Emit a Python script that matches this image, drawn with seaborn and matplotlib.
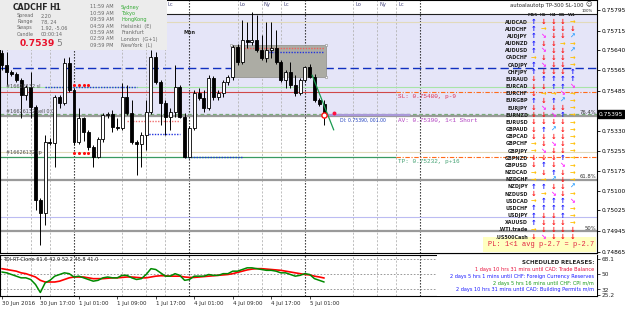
import matplotlib
matplotlib.use("Agg")
import numpy as np
import pandas as pd
import matplotlib.pyplot as plt
import seaborn as sns
from matplotlib.patches import Rectangle

# CADCHF H1 candles, 30 Jun 09:00 .. 5 Jul 04:00 (bar 15 = 1 Jul 00:00)
opens = [0.75630, 0.75584, 0.75557, 0.75549, 0.75526, 0.75468, 0.75499, 0.75422, 0.75065, 0.75015,
         0.75288, 0.75284, 0.75461, 0.75438, 0.75591, 0.75488, 0.75288, 0.75380, 0.75326, 0.75269,
         0.75230, 0.75299, 0.75391, 0.75395, 0.75345, 0.75342, 0.75461, 0.75399, 0.75288, 0.75280,
         0.75315, 0.75403, 0.75614, 0.75518, 0.75438, 0.75384, 0.75403, 0.75499, 0.75384, 0.75230,
         0.75342, 0.75476, 0.75457, 0.75418, 0.75534, 0.75461, 0.75476, 0.75518, 0.75538, 0.75653,
         0.75595, 0.75680, 0.75672, 0.75680, 0.75641, 0.75611, 0.75641, 0.75649, 0.75595, 0.75526,
         0.75557, 0.75507, 0.75476, 0.75526, 0.75576, 0.75538, 0.75449, 0.75434]
highs = [0.75641, 0.75634, 0.75564, 0.75557, 0.75534, 0.75507, 0.75557, 0.75430, 0.75072, 0.75315,
         0.75303, 0.75468, 0.75468, 0.75611, 0.75614, 0.75495, 0.75418, 0.75384, 0.75334, 0.75276,
         0.75307, 0.75399, 0.75403, 0.75411, 0.75380, 0.75514, 0.75507, 0.75449, 0.75295, 0.75326,
         0.75449, 0.75641, 0.75634, 0.75526, 0.75449, 0.75418, 0.75584, 0.75507, 0.75399, 0.75349,
         0.75488, 0.75495, 0.75488, 0.75545, 0.75541, 0.75488, 0.75526, 0.75545, 0.75660, 0.75664,
         0.75757, 0.75749, 0.75787, 0.75776, 0.75699, 0.75749, 0.75749, 0.75718, 0.75603, 0.75564,
         0.75595, 0.75545, 0.75534, 0.75580, 0.75587, 0.75549, 0.75457, 0.75449]
lows = [0.75564, 0.75507, 0.75541, 0.75518, 0.75380, 0.75449, 0.75380, 0.75026, 0.74892, 0.74969,
        0.75276, 0.75192, 0.75418, 0.75430, 0.75480, 0.75276, 0.75280, 0.75292, 0.75257, 0.75192,
        0.75226, 0.75288, 0.75380, 0.75326, 0.75334, 0.75334, 0.75391, 0.75280, 0.75161, 0.75192,
        0.75257, 0.75395, 0.75511, 0.75353, 0.75315, 0.75334, 0.75384, 0.75380, 0.75226, 0.75226,
        0.75334, 0.75449, 0.75403, 0.75411, 0.75449, 0.75449, 0.75461, 0.75507, 0.75526, 0.75584,
        0.75587, 0.75649, 0.75660, 0.75634, 0.75603, 0.75595, 0.75611, 0.75587, 0.75518, 0.75495,
        0.75495, 0.75464, 0.75468, 0.75518, 0.75534, 0.75441, 0.75426, 0.75353]
closes = [0.75584, 0.75557, 0.75549, 0.75526, 0.75468, 0.75499, 0.75422, 0.75065, 0.75015, 0.75288,
          0.75284, 0.75461, 0.75438, 0.75591, 0.75488, 0.75288, 0.75380, 0.75326, 0.75269, 0.75230,
          0.75299, 0.75391, 0.75395, 0.75345, 0.75342, 0.75461, 0.75399, 0.75288, 0.75280, 0.75315,
          0.75403, 0.75614, 0.75518, 0.75438, 0.75384, 0.75403, 0.75499, 0.75384, 0.75230, 0.75342,
          0.75476, 0.75457, 0.75418, 0.75534, 0.75461, 0.75476, 0.75518, 0.75538, 0.75653, 0.75595,
          0.75680, 0.75672, 0.75680, 0.75641, 0.75611, 0.75641, 0.75649, 0.75595, 0.75526, 0.75557,
          0.75507, 0.75476, 0.75526, 0.75576, 0.75538, 0.75449, 0.75434, 0.75395]

# TDI-RT-Clone: red signal line and green RSI price line
tdi_signal = [57, 56, 55, 54, 52, 51, 49, 47, 43, 41, 41, 41, 42, 44, 46,
              47, 47, 47, 46, 45, 45, 45, 45.5, 46, 46, 46.5, 47, 47, 46.5, 46, 46,
              47, 48, 48.5, 48.5, 48, 48, 48, 47, 46.5, 46.5, 47, 47.5, 48, 48.5, 49, 49.5,
              50, 51, 52.5, 54, 55.5, 56.5, 57, 57, 56.5, 56, 55.5, 55, 54, 53, 52, 51,
              50, 49.5, 48, 47, 45.8]
tdi_rsi = [53, 52, 50, 48, 46, 46, 44, 38, 28.4, 40, 43, 48, 50, 52, 51,
           47, 48, 46, 44, 42, 43, 46, 47, 46, 46, 49, 49, 46, 44, 45, 50,
           57, 56, 52, 48, 48, 51, 49, 43, 44, 48, 48, 48, 50, 49, 49, 51,
           51, 54, 54, 56, 58, 58, 57, 56, 55, 55, 54, 52, 52, 50, 48, 49,
           51, 50, 45, 43, 41]

price_ticks = [0.75795, 0.75715, 0.75640, 0.75565, 0.75485, 0.75330, 0.75255,
               0.75175, 0.75100, 0.75025, 0.74945, 0.74865]
tdi_ticks = [68.1, 50, 32, 25.2]
time_ticks = [0, 8, 16, 24, 32, 40, 48, 56, 64]
time_labels = ["30 Jun 2016", "30 Jun 17:00", "1 Jul 01:00", "1 Jul 09:00", "1 Jul 17:00",
               "4 Jul 01:00", "4 Jul 09:00", "4 Jul 17:00", "5 Jul 01:00"]
day_starts = [15, 39, 63, 87]
session_days = [-9, 15, 39, 63]
session_offsets = {"Lo": 10, "Ny": 15, "Lc": 19}

entry_price = 0.75395
sl_price = 0.75480
tp_price = 0.75232
fib_levels = {"76.4%": 0.75388, "61.8%": 0.75142, "50%": 0.74946}
round_levels = {0.75750: "#e2dabb", 0.75500: "#a8e4a8", 0.75250: "#e2dabb", 0.75000: "#bcbcf2"}
blue_dash_price = 0.75572
zone_top, zone_bottom = 0.75780, 0.75391
box_bars, box_prices = (47.7, 67.3), (0.75538, 0.75660)
dotted_segments = [(0.75500, 9, 28, "#2233dd"), (0.75368, 26, 37, "#f07070"),
                   (0.75318, 30, 37, "#2233dd"), (0.75230, 38, 50, "#2233dd"),
                   (0.75649, 48, 67, "#f06060"), (0.75634, 55, 67, "#2233dd")]
order_dot_bars = [15, 16, 17, 18]
order_dot_prices = [0.75507, 0.75245]
trend_x, trend_y = [64.5, 69.0], [0.75545, 0.75334]
label_bar = 82

pairs = ["AUDCAD", "AUDCHF", "AUDJPY", "AUDNZD", "AUDUSD", "CADCHF", "CADJPY", "CHFJPY",
         "EURAUD", "EURCAD", "EURCHF", "EURGBP", "EURJPY", "EURNZD", "EURUSD", "GBPAUD",
         "GBPCAD", "GBPCHF", "GBPJPY", "GBPNZD", "GBPUSD", "NZDCAD", "NZDCHF", "NZDJPY",
         "NZDUSD", "USDCAD", "USDCHF", "USDJPY", "XAUUSD", ".WTI.trade", ".US500Cash"]
signals = ["UDDDR", "URDDD", "USDDN", "UDDRR", "USDDN", "RDDDR", "USDDR", "UDDDU",
           "DUUUU", "DDUUS", "DRRSR", "UDUNR", "DSDDR", "DDSUR", "DDDDR", "DUNDR",
           "DDDDR", "RDSDR", "RSDDR", "DDDUR", "DUDSR", "RDUDR", "RRNDR", "UUDDN",
           "DRSDR", "RUUUS", "UUUUR", "UDDUR", "UDDDR", "RDDDD", "DSDDD"]
timeframes = ["M15", "H1", "H4", "D1", "W1"]

releases = [("1 days 10 hrs 31 mins until CAD: Trade Balance", "#e8103a"),
            ("2 days 5 hrs 1 mins until CHF: Foreign Currency Reserves", "#1a1aff"),
            ("2 days 5 hrs 16 mins until CHF: CPI m/m", "#1a9a1a"),
            ("2 days 10 hrs 31 mins until CAD: Building Permits m/m", "#1a1aff")]

sns.set_theme(style="white")
plt.rcParams["font.family"] = ["DejaVu Sans"]
MONO = ["Liberation Mono", "DejaVu Sans Mono"]

W, H = 625, 309
fig = plt.figure(figsize=(W / 100, H / 100), dpi=100)


def label(x, y, s, **kw):
    kw.setdefault("va", "center")
    fig.text(x / W, 1 - y / H, s, **kw)


xlim = (-0.385, 123.73)
ax = fig.add_axes([0, 1 - 253 / H, 597 / W, 253 / H])
ax2 = fig.add_axes([0, 1 - 296 / H, 597 / W, 41 / H])
ax.set_xlim(xlim)
ax.set_ylim(0.748612, 0.758334)
ax2.set_xlim(xlim)
ax2.set_ylim(24.2, 73.4)

df = pd.DataFrame({"bar": np.arange(len(opens)), "open": opens, "high": highs,
                   "low": lows, "close": closes})
up = df["close"] >= df["open"]

# background zone and horizontal objects
ax.add_patch(Rectangle((xlim[0], zone_bottom), xlim[1] - xlim[0], zone_top - zone_bottom,
                       fc="#e5e5f8", ec="none", zorder=0.2))
ax.axhline(zone_top, color="#202020", lw=0.8, zorder=1)
for p, c in round_levels.items():
    ax.axhline(p, color=c, lw=0.8, zorder=1)
ax.axhline(blue_dash_price, color="#1030c0", lw=1.0, dashes=(6, 3), zorder=1)
for p in fib_levels.values():
    ax.axhline(p, color="#9a9a9a", lw=1.6, zorder=1)
ax.axhline(entry_price, color="#7aaa7a", lw=0.9, dashes=(3, 2), zorder=1.2)
ax.hlines(sl_price, xlim[0], label_bar, color="#d04848", lw=0.8, zorder=1)
ax.hlines(tp_price, xlim[0], label_bar, color="#3a9a60", lw=0.9, zorder=1)
for p in (sl_price, tp_price):
    ax.hlines(p, label_bar, xlim[1], color="#ff6a1a", lw=0.8,
              linestyles=(0, (4, 1.5, 1, 1.5)), zorder=1)
ax.hlines(0.75391, 66.8, 84.9, color="#a898d8", lw=1.6, zorder=1.3)

# session and day separators
for ax_ in (ax, ax2):
    for d in session_days:
        for off in session_offsets.values():
            ax_.axvline(d + off, color="#b4b4b4", lw=0.6, dashes=(2.5, 2), zorder=0.5)
    for d in day_starts:
        ax_.axvline(d, color="#202020", lw=0.8, dashes=(1.2, 1.5), zorder=0.6)

# analysis box and dotted order levels
ax.add_patch(Rectangle((box_bars[0], box_prices[0]), box_bars[1] - box_bars[0],
                       box_prices[1] - box_prices[0], fc="#acaca4", ec="#8c8c86", lw=0.5, zorder=2))
ax.scatter([box_bars[0], box_bars[1], box_bars[1]], [box_prices[1], box_prices[1], box_prices[0]],
           marker="s", s=3, fc="white", ec="#888888", lw=0.4, zorder=2.5)
for p, a, b, c in dotted_segments:
    ax.hlines(p, a, b, color=c, lw=1.0, linestyles=(0, (1, 1)), zorder=2.6)
for p in order_dot_prices:
    ax.scatter(order_dot_bars, [p] * len(order_dot_bars), s=5, color="#ff1010", zorder=5, lw=0)

# candles
ax.vlines(df["bar"], df["low"], df["high"], color="black", lw=0.7, zorder=3)
ax.bar(df["bar"], (df["close"] - df["open"]).abs().clip(lower=0.000012),
       bottom=df[["open", "close"]].min(axis=1), width=0.62,
       color=np.where(up, "white", "black"), edgecolor="black", linewidth=0.6, zorder=4)

sns.lineplot(x=trend_x, y=trend_y, ax=ax, color="#1a9a50", lw=0.9, zorder=5)
ax.scatter([df["bar"].iloc[-1]], [0.75391], s=14, fc="white", ec="#ff1010", lw=1.0, zorder=6)
ax.scatter([df["bar"].iloc[-1] + 2], [0.75399], s=8, color="#ff1040", lw=0, zorder=6)

# price axis
ax.set_xticks([])
ax.set_yticks(price_ticks)
ax.set_yticklabels([f"{p:.5f}" for p in price_ticks])
ax.yaxis.tick_right()
ax.tick_params(axis="y", length=2, width=0.6, labelsize=4.2, pad=1, colors="black", direction="out")
ax.text(1.003, entry_price, "0.75395", transform=ax.get_yaxis_transform(), ha="left", va="center",
        fontsize=4.2, color="white", bbox=dict(boxstyle="square,pad=0.2", fc="black", ec="black"))
for a in (ax, ax2):
    for s in a.spines.values():
        s.set_color("black")
        s.set_linewidth(0.8)

# indicator pane
tdi = pd.DataFrame({"bar": df["bar"], "signal": tdi_signal, "rsi": tdi_rsi})
for lvl in (68, 50, 32):
    ax2.axhline(lvl, color="#8a8a8a", lw=0.6, dashes=(2, 2), zorder=0.7)
sns.lineplot(data=tdi, x="bar", y="signal", ax=ax2, color="#ff0000", lw=1.2, zorder=3)
sns.lineplot(data=tdi, x="bar", y="rsi", ax=ax2, color="#008a00", lw=1.1, zorder=3)
ax2.add_patch(Rectangle((437 / 597, 0), 1 - 437 / 597, 1, transform=ax2.transAxes,
                        fc="white", ec="none", zorder=4))
ax2.set_xlabel("")
ax2.set_ylabel("")
ax2.set_yticks(tdi_ticks)
ax2.set_yticklabels([str(t) for t in tdi_ticks])
ax2.yaxis.tick_right()
ax2.tick_params(axis="y", length=2, width=0.6, labelsize=4.2, pad=1, direction="out")
ax2.set_xticks(time_ticks)
ax2.set_xticklabels(time_labels, ha="left")
ax2.tick_params(axis="x", length=2, width=0.6, labelsize=4, pad=1.5, direction="out", bottom=True)
ax2.text(0.005, 0.9, "TDI-RT-Clone 61.6 42.9 52.2 45.8 41.0", transform=ax2.transAxes,
         fontsize=3.6, va="center", zorder=5)

# session labels (1 Jul ones sit under the info panel, only "Lc" peeks out)
ax.text(day_starts[0] + session_offsets["Lc"] + 0.5, 0.75815, "Lc", fontsize=3.8,
        color="#4a4a80", va="center", zorder=5)
for d in day_starts[1:3]:
    for name, off in session_offsets.items():
        ax.text(d + off + 0.5, 0.75815, name, fontsize=3.8, color="#4a4a80", va="center", zorder=5)
label(183, 33, "Mon", fontsize=3.6, weight="bold")

# info panel
fig.patches.append(Rectangle((0, 1 - 50 / H), 167 / W, 50 / H, transform=fig.transFigure,
                             fc="#ececec", ec="none", zorder=1))
label(13, 7, "CADCHF", fontsize=5.6, weight="bold")
label(49, 7, "H1", fontsize=5.6, weight="bold")
for j, (k, v) in enumerate([("Spread", "2.20"), ("Range", "78, 24"), ("Swaps", "1.92, -5.06"),
                            ("Candle", "00:00:14")]):
    label(17, 16 + j * 6, k, fontsize=3.5, color="#666666")
    label(41, 16 + j * 6, v, fontsize=3.5, color="#666666")
label(20, 44, "0.7539", fontsize=6.6, weight="bold", color="#e8102a")
label(56, 44, "5", fontsize=6.6, color="#808080")
clock = [("11:59 AM", "Sydney", "#33aa33"), ("10:59 AM", "Tokyo", "#33aa33"),
         ("09:59 AM", "HongKong", "#33aa33"), ("04:59 AM", "Helsinki  (E)", "#666666"),
         ("03:59 AM", "Frankfurt", "#666666"), ("02:59 AM", "London  (G+1)", "#666666"),
         ("09:59 PM", "NewYork  (L)", "#666666")]
for j, (t, city, c) in enumerate(clock):
    label(90, 7 + j * 6.4, t, fontsize=3.6, color="#666666")
    label(121, 7 + j * 6.4, city, fontsize=3.6, color=c)

# order texts
label(6, 86, "#16626132 sl", fontsize=3.5, color="#505050")
label(6, 111, "#16626132 sell 0.0", fontsize=3.5, color="#505050")
label(6, 152.5, "#16626132 tp", fontsize=3.5, color="#505050")
label(398, 96.5, "SL: 0.75480, p-9", fontsize=4.3, color="#e03050", family=MONO)
label(340, 120, "DI: 0.75390, 001.00", fontsize=3.3, color="#2040c0")
label(398, 120, "AV: 0.75390, 1<1 Short", fontsize=4.3, color="#b040c0", family=MONO)
label(398, 161, "TP: 0.75232, p+16", fontsize=4.3, color="#40a070", family=MONO)
label(596, 113, "76.4%", fontsize=3.8, color="#303030", ha="right")
label(596, 176, "61.8%", fontsize=3.8, color="#303030", ha="right")
label(596, 228, "50%", fontsize=3.8, color="#303030", ha="right")

# signal table
label(584, 5, "autoalautotp TP-300 SL-100", fontsize=3.8, ha="right")
label(589, 5, "\u263a", fontsize=4.5, ha="center")
label(593, 11, "100%", fontsize=2.8, ha="right")
cols = [533, 543, 553, 562, 572]
for x, tf in zip(cols, timeframes):
    label(x, 14.5, tf, fontsize=3.1, ha="center", weight="bold")
glyphs = {"U": ("\u2191", "#1010ff"), "D": ("\u2193", "#ff1010"), "R": ("\u2192", "#ffbf00"),
          "S": ("\u2198", "#ff20ff"), "N": ("\u2197", "#30a0ff")}
for j, (pair, sig) in enumerate(zip(pairs, signals)):
    y = 22 + j * 7.17
    label(528, y, pair, fontsize=3.5, ha="right", weight="bold", color="#202020")
    for x, code in zip(cols, sig):
        g, c = glyphs[code]
        label(x, y, g, fontsize=4.9, ha="center", weight="bold", color=c)

# P/L box
fig.patches.append(Rectangle((483 / W, 1 - 252 / H), 113 / W, 15 / H, transform=fig.transFigure,
                             fc="#ffffc0", ec="none", zorder=1))
label(594, 244.5, "PL: 1<1 avg p-2.7 = p-2.7", fontsize=5, ha="right", color="#e02040", family=MONO)

# scheduled releases
label(594, 263, "SCHEDULED RELEASES:", fontsize=4, ha="right", weight="bold")
for j, (s, c) in enumerate(releases):
    label(594, 270 + j * 6.6, s, fontsize=3.6, ha="right", color=c)

fig.savefig("out.png", dpi=100)
